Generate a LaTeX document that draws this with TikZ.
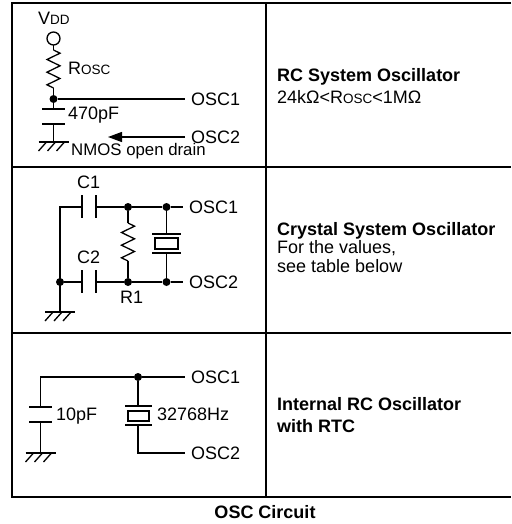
\documentclass[tikz,border=0pt]{standalone}
\usepackage{fontspec}
\setmainfont{Liberation Sans}
\usetikzlibrary{arrows.meta}
\newcommand\klein[1]{{\fontsize{13.5}{14}\selectfont #1}}
\begin{document}
\begin{tikzpicture}[x=1pt,y=-1pt,
    wire/.style={line width=1.3pt},
    frame/.style={line width=2pt},
    plate/.style={line width=1.9pt},
    dot/.style={circle,fill,inner sep=0pt,minimum size=8pt},
    lbl/.style={anchor=base west,inner sep=0pt,font=\fontsize{18}{20}\selectfont},
    osc/.style={anchor=west,inner xsep=6pt,inner ysep=0pt,font=\fontsize{18}{20}\selectfont},
    txt/.style={anchor=base west,inner sep=0pt,font=\fontsize{18}{20}\selectfont},
    pics/res/.style={code={
        \draw[wire] (0,0) -- (6.5,3.2) -- (-6.5,9.5) -- (6.5,15.8) -- (-6.5,22.2)
        -- (6.5,28.5) -- (-6.5,34.8) -- (0,38);}},
    pics/gnd/.style={code={
        \draw[wire] (-15,0) -- (15,0);
        \foreach \k in {-7,2,11} \draw[wire] (\k,0) -- (\k-8,9);}},
  ]
  \useasboundingbox (0,0) rectangle (511,524);
  % Rahmen und Trennlinien
  \draw[frame] (511,3) -- (12,3) -- (12,497) -- (511,497);
  \draw[frame]
  (266,3) -- (266,497)
  (12,167) -- (511,167)
  (12,333) -- (511,333)
  ;
  % RC-Oszillator
  \draw[wire] (53.5,38.5) circle (6.5);
  \node[lbl] (vdd) at (38,25) {V\klein{DD}};
  \draw[wire] (53.5,45) -- (53.5,50);
  \pic at (53.5,50) {res};
  \node[lbl] (rosc) at (68,75) {R\klein{OSC}};
  \node[dot] (ra) at (53.5,99) {};
  \node[osc] (osc1a) at (185,99) {OSC1};
  \draw[wire] (53.5,88) -- (ra) -- (53.5,109)
  (ra) -- (osc1a.west)
  (53.5,124) -- (53.5,142)
  ;
  \draw[plate] (42,109) -- (65,109) (42,124) -- (65,124);
  \node[lbl] (cpa) at (68,120) {470pF};
  \pic at (53.5,142) {gnd};
  \node[osc] (osc2a) at (185,137) {OSC2};
  \coordinate (pfeil) at (108,137);
  \draw[wire,-{Triangle[length=14pt,width=10pt]}] (osc2a.west) -- (pfeil);
  \node[lbl,font=\fontsize{16.8}{18}\selectfont] (nmos) at (71,155) {NMOS open drain};
  % Quarz-Oszillator
  \node[dot] (qa) at (60,282) {};
  \node[dot] (qb) at (128,207) {};
  \node[dot] (qc) at (166.5,207) {};
  \node[dot] (qd) at (128,282) {};
  \node[dot] (qe) at (166.5,282) {};
  \node[osc] (osc1b) at (183,207) {OSC1};
  \node[osc] (osc2b) at (183,282) {OSC2};
  \draw[wire]
  (60,312) -- (60,207) -- (82,207)
  (96,207) -- (qb) -- (qc) -- (osc1b.west)
  (qa) -- (82,282)
  (96,282) -- (qd) -- (qe) -- (osc2b.west)
  (qb) -- (128,223)
  (128,261) -- (qd)
  (qc) -- (166.5,234)
  (166.5,253) -- (qe)
  (155,238) rectangle (178,249)
  ;
  \draw[plate]
  (82,195) -- (82,218) (96,195) -- (96,218)
  (82,270) -- (82,293) (96,270) -- (96,293)
  (152,234) -- (181,234) (152,253) -- (181,253)
  ;
  \pic at (128,223) {res};
  \pic at (60,312) {gnd};
  \node[lbl] (c1) at (77,188) {C1};
  \node[lbl] (c2) at (77,263) {C2};
  \node[lbl] (r1) at (120,303) {R1};
  % interner RC-Oszillator mit RTC
  \node[dot] (ia) at (138,377) {};
  \node[osc] (osc1c) at (185,377) {OSC1};
  \node[osc] (osc2c) at (185,453) {OSC2};
  \draw[wire]
  (40.5,407) -- (40.5,377) -- (ia) -- (osc1c.west)
  (40.5,422) -- (40.5,453)
  (ia) -- (138,406)
  (138,425) -- (138,453) -- (osc2c.west)
  (128,411) rectangle (149,421)
  ;
  \draw[plate]
  (29,407) -- (52,407) (29,422) -- (52,422)
  (125,406) -- (152,406) (125,425) -- (152,425)
  ;
  \pic at (40.5,453) {gnd};
  \node[lbl] (cpc) at (56,420) {10pF};
  \node[lbl] (quarz) at (157,420) {32768Hz};
  % Beschreibungen
  \node[txt,font=\fontsize{18}{20}\selectfont\bfseries] (rctit) at (277,82) {RC System Oscillator};
  \node[txt] (rcwert) at (277,103) {24kΩ<R\klein{OSC}<1MΩ};
  \node[txt,font=\fontsize{18}{20}\selectfont\bfseries] (qtit) at (277,235) {Crystal System Oscillator};
  \node[txt] (qwert1) at (277,253.5) {For the values,};
  \node[txt] (qwert2) at (277,272) {see table below};
  \node[txt,font=\fontsize{18}{20}\selectfont\bfseries] (itit1) at (277,410) {Internal RC Oscillator};
  \node[txt,font=\fontsize{18}{20}\selectfont\bfseries] (itit2) at (277,432) {with RTC};
  % Titel
  \node[anchor=base,inner sep=0pt,font=\fontsize{18}{20}\selectfont\bfseries] (titel) at (265,518) {OSC Circuit};
\end{tikzpicture}
\end{document}
